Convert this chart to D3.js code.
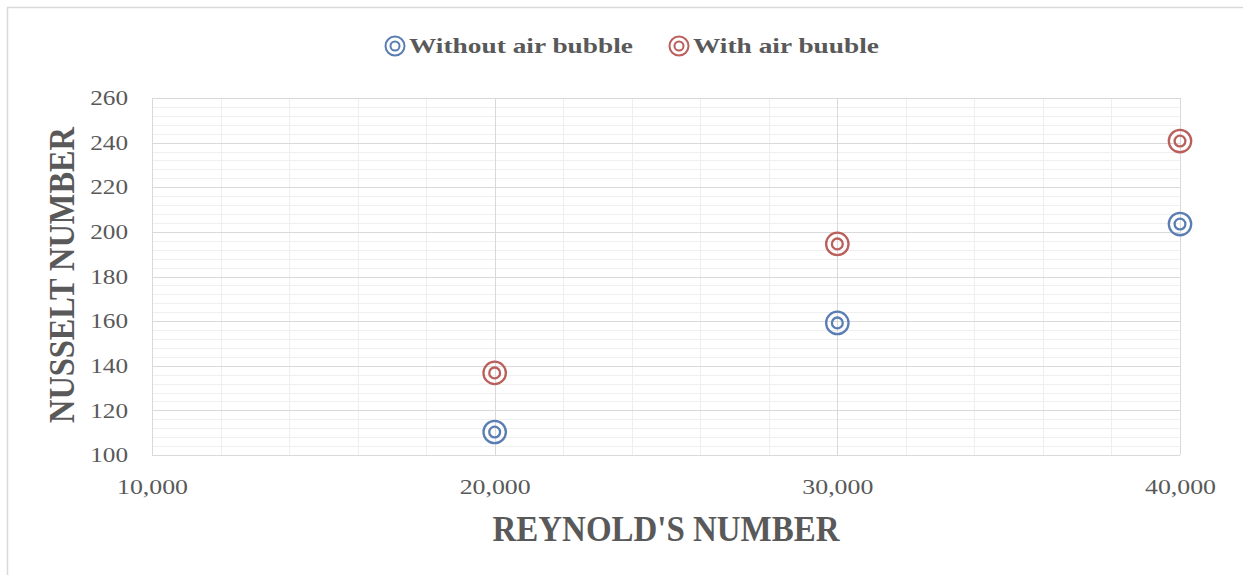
<!DOCTYPE html>
<html><head><meta charset="utf-8">
<script src="https://cdn.jsdelivr.net/npm/d3@7"></script>
<style>body{margin:0;background:#fff}svg{display:block}</style>
</head><body><svg id="c" width="1243" height="575"></svg>
<script>
const reynolds = [20000, 30000, 40000];
const withoutBubble = [110.3, 159.2, 203.5];
const withBubble = [136.8, 194.6, 240.7];
const seriesNames = ["Without air bubble", "With air buuble"];
const xTicks = [10000, 20000, 30000, 40000];
const yTicks = [100, 120, 140, 160, 180, 200, 220, 240, 260];

const svg = d3.select("#c");
const W = 1243, H = 575;
const L = 152, R = 1180, T = 98, B = 455;
const x = d3.scaleLinear().domain([10000, 40000]).range([L, R]);
const y = d3.scaleLinear().domain([100, 260]).range([B, T]);
const colors = ["#5a7db3", "#ba5f5b"];
const FONT = "'Liberation Serif', 'Times New Roman', serif";

svg.append("rect").attr("x", 7.5).attr("y", 7.5).attr("width", W + 10).attr("height", H + 10)
  .attr("fill", "#fff").attr("stroke", "#d9d9d9").attr("stroke-width", 1.5);

const g = svg.append("g");
const yMinor = d3.range(100, 260.01, 4);
const xMinor = d3.range(10000, 40000.1, 2000);
g.selectAll(".ym").data(yMinor).join("line").attr("x1", L).attr("x2", R)
  .attr("y1", d => Math.round(y(d)) + 0.5).attr("y2", d => Math.round(y(d)) + 0.5)
  .attr("stroke", "#efefef").attr("stroke-width", 1);
g.selectAll(".xm").data(xMinor).join("line").attr("y1", T).attr("y2", B)
  .attr("x1", d => Math.round(x(d)) + 0.5).attr("x2", d => Math.round(x(d)) + 0.5)
  .attr("stroke", "#efefef").attr("stroke-width", 1);
g.selectAll(".yM").data(yTicks).join("line").attr("x1", L).attr("x2", R)
  .attr("y1", d => Math.round(y(d)) + 0.5).attr("y2", d => Math.round(y(d)) + 0.5)
  .attr("stroke", "#d9d9d9").attr("stroke-width", 1);
g.selectAll(".xM").data(xTicks).join("line").attr("y1", T).attr("y2", B)
  .attr("x1", d => Math.round(x(d)) + 0.5).attr("x2", d => Math.round(x(d)) + 0.5)
  .attr("stroke", "#d9d9d9").attr("stroke-width", 1);

function stretch(sel, k) {
  sel.each(function() {
    const w = this.getComputedTextLength();
    d3.select(this).attr("textLength", w * k).attr("lengthAdjust", "spacingAndGlyphs");
  });
}

const fmt = d3.format(",");
const yAxis = d3.axisLeft(y).tickValues(yTicks).tickSize(0).tickPadding(24);
const ya = svg.append("g").attr("transform", `translate(${L},0)`).call(yAxis);
ya.select(".domain").remove();
ya.selectAll("text").attr("font-family", FONT).attr("font-size", 21).attr("fill", "#595959").call(stretch, 1.2);
const xAxis = d3.axisBottom(x).tickValues(xTicks).tickFormat(fmt).tickSize(0).tickPadding(24);
const xa = svg.append("g").attr("transform", `translate(0,${B})`).call(xAxis);
xa.select(".domain").remove();
xa.selectAll("text").attr("font-family", FONT).attr("font-size", 21).attr("fill", "#595959").call(stretch, 1.23);

svg.append("text").attr("x", 666).attr("y", 541).attr("text-anchor", "middle")
  .attr("font-family", FONT).attr("font-weight", "bold").attr("font-size", 35)
  .attr("fill", "#595959").attr("textLength", 347).attr("lengthAdjust", "spacingAndGlyphs")
  .text("REYNOLD'S NUMBER");
svg.append("text").attr("transform", "translate(74,275) rotate(-90)").attr("text-anchor", "middle")
  .attr("font-family", FONT).attr("font-weight", "bold").attr("font-size", 35)
  .attr("fill", "#595959").attr("textLength", 296).attr("lengthAdjust", "spacingAndGlyphs")
  .text("NUSSELT NUMBER");

function marker(sel, cx, cy, col) {
  sel.append("circle").attr("cx", cx).attr("cy", cy).attr("r", 11.2).attr("fill", "none").attr("stroke", col).attr("stroke-width", 2.3);
  sel.append("circle").attr("cx", cx).attr("cy", cy).attr("r", 5.4).attr("fill", "none").attr("stroke", col).attr("stroke-width", 2.3);
}
[withoutBubble, withBubble].forEach((vals, i) => {
  const sg = svg.append("g");
  vals.forEach((v, j) => marker(sg, x(reynolds[j]), y(v), colors[i]));
});

const legX = [395, 679];
const legW = [224, 186];
seriesNames.forEach((n, i) => {
  const lg = svg.append("g");
  const cx = legX[i], cy = 46;
  lg.append("circle").attr("cx", cx).attr("cy", cy).attr("r", 9.5).attr("fill", "none").attr("stroke", colors[i]).attr("stroke-width", 2);
  lg.append("circle").attr("cx", cx).attr("cy", cy).attr("r", 4.5).attr("fill", "none").attr("stroke", colors[i]).attr("stroke-width", 2);
  lg.append("text").attr("x", cx + 14).attr("y", cy + 7).attr("font-family", FONT)
    .attr("font-weight", "bold").attr("font-size", 22).attr("fill", "#595959")
    .attr("textLength", legW[i]).attr("lengthAdjust", "spacingAndGlyphs").text(n);
});
</script></body></html>
